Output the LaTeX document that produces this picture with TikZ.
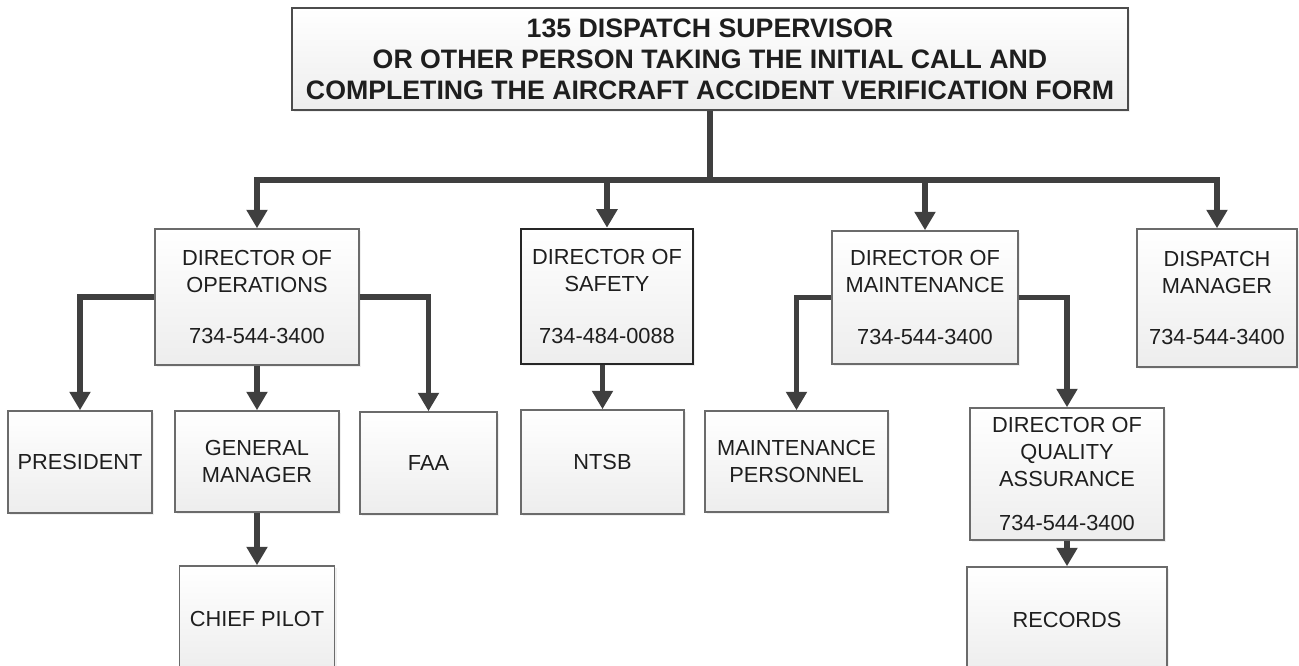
\documentclass[tikz,border=0pt]{standalone}
\usepackage{fontspec}
\setmainfont{Liberation Sans}
\definecolor{linea}{HTML}{3F3F3F}
\definecolor{borde}{HTML}{6B6B6B}
\definecolor{texto}{HTML}{1E1E1E}
\usetikzlibrary{arrows.meta, shadows}

\begin{document}
\begin{tikzpicture}[
  x=0.02cm, y=-0.02cm,
  orgbox/.style={draw=borde, line width=0.9pt, top color=white, bottom color=black!7,
                 align=center, inner sep=2pt, text=texto,
                 font=\fontsize{12.4}{15.4}\selectfont,
                 drop shadow={shadow xshift=1.2pt, shadow yshift=-1.2pt, opacity=0.12}},
  headbox/.style={orgbox, draw=black!70, line width=1.1pt,
                  font=\bfseries\fontsize{15.2}{17.6}\selectfont},
  link/.style={draw=linea, line width=2.9pt},
  arrowlink/.style={link, -{Triangle[width=11.5pt, length=10.5pt]}},
]
\useasboundingbox (0,0) rectangle (1299,666);

% top of the chain
\node[headbox, minimum width=16.72cm, minimum height=2.04cm] (super) at (710,59) {
  135 DISPATCH SUPERVISOR\\
  OR OTHER PERSON TAKING THE INITIAL CALL AND\\
  COMPLETING THE AIRCRAFT ACCIDENT VERIFICATION FORM
};

% directors
\node[orgbox, minimum width=4.08cm, minimum height=2.72cm] (dirops) at (257,297) {
  DIRECTOR OF\\OPERATIONS\\[14pt]734-544-3400
};
\node[orgbox, draw=black!85, line width=1.5pt, minimum width=3.44cm, minimum height=2.7cm] (safety) at (607,296.5) {
  DIRECTOR OF\\SAFETY\\[14pt]734-484-0088
};
\node[orgbox, minimum width=3.72cm, minimum height=2.66cm] (maint) at (925,297.5) {
  DIRECTOR OF\\MAINTENANCE\\[14pt]734-544-3400
};
\node[orgbox, minimum width=3.2cm, minimum height=2.76cm] (dispatch) at (1217,298) {
  DISPATCH\\MANAGER\\[14pt]734-544-3400
};

% second level
\node[orgbox, minimum width=2.88cm, minimum height=2.04cm] (pres) at (80,462) {PRESIDENT};
\node[orgbox, minimum width=3.28cm, minimum height=2.02cm] (genman) at (257,461.5) {GENERAL\\MANAGER};
\node[orgbox, minimum width=2.74cm, minimum height=2.04cm] (faa) at (428.5,463) {FAA};
\node[orgbox, minimum width=3.1cm, minimum height=2.12cm] (chief) at (257,619) {CHIEF PILOT};
\node[orgbox, minimum width=3.26cm, minimum height=2.08cm] (ntsb) at (602.5,462) {NTSB};
\node[orgbox, minimum width=3.66cm, minimum height=2.02cm] (mpers) at (796.5,461.5) {MAINTENANCE\\PERSONNEL};
\node[orgbox, minimum width=3.88cm, minimum height=2.64cm] (qa) at (1067,474) {
  DIRECTOR OF\\QUALITY\\ASSURANCE\\[9.5pt]734-544-3400
};
\node[orgbox, minimum width=4cm, minimum height=2.1cm] (records) at (1067,619.5) {RECORDS};

% connectors
\coordinate (bus) at (710,180);
\draw[link] (super.south) -- (bus);
\foreach \n in {dirops, safety, maint, dispatch}
  \draw[arrowlink] (bus) -| (\n.north);

\draw[arrowlink] (dirops.west) -| (pres.north);
\draw[arrowlink] (dirops.south) -- (genman.north);
\draw[arrowlink] (dirops.east) -| (faa.north);
\draw[arrowlink] (genman.south) -- (chief.north);
\draw[arrowlink] (ntsb.north |- safety.south) -- (ntsb.north);
\draw[arrowlink] (maint.west) -| (mpers.north);
\draw[arrowlink] (maint.east) -| (qa.north);
\draw[arrowlink] (qa.south) -- (records.north);
\end{tikzpicture}
\end{document}
